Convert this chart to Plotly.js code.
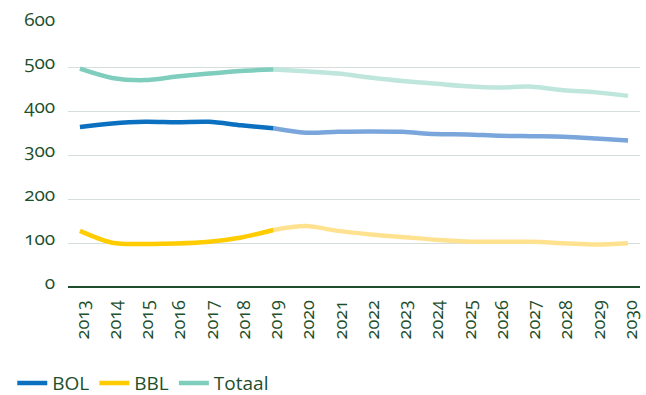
<!DOCTYPE html>
<html>
<head>
<meta charset="utf-8">
<script src="https://cdn.plot.ly/plotly-3.0.1.min.js"></script>
<style>
  html, body { margin: 0; padding: 0; background: #fff; }
  #chart { width: 646px; height: 395px; }
  svg text { font-variant-numeric: oldstyle-nums !important; font-feature-settings: "onum" 1 !important; }
</style>
</head>
<body>
<div id="chart"></div>
<script>
// Years (x categories)
const yearsAll  = ["2013","2014","2015","2016","2017","2018","2019","2020","2021","2022","2023","2024","2025","2026","2027","2028","2029","2030"];
const yearsHist = ["2013","2014","2015","2016","2017","2018","2019"];
const yearsProg = ["2019","2020","2021","2022","2023","2024","2025","2026","2027","2028","2029","2030"];

// Realised values 2013-2019
const bolHist    = [365, 373, 377, 376, 377, 369, 362];
const bblHist    = [128, 101, 98, 99, 103, 113, 130];
const totaalHist = [498, 477, 472, 480, 487, 493, 496];

// Forecast values 2019-2030
const bolProg    = [362, 352, 354, 355, 354, 349, 348, 345, 344, 343, 339, 334];
const bblProg    = [130, 139, 128, 120, 114, 108, 104, 103, 103, 100, 97, 100];
const totaalProg = [496, 492, 487, 478, 470, 464, 458, 455, 457, 449, 444, 436];

// Tick values / labels
const yTicks = [0, 100, 200, 300, 400, 500, 600];
const seriesNames = ["BOL", "BBL", "Totaal"];

const green = "#1d4f2c";
const font = "Open Sans";

const colHist = ["#0a70bf", "#ffcc00", "#7ecdbd"];
const colProg = ["#7aa6db", "#ffe290", "#bfe6dc"];
const hist = [bolHist, bblHist, totaalHist];
const prog = [bolProg, bblProg, totaalProg];

const traces = [];
for (let i = 0; i < 3; i++) {
  traces.push({
    x: yearsProg, y: prog[i], type: "scatter", mode: "lines",
    line: { color: colProg[i], width: 4.5, shape: "spline", smoothing: 0.9 },
    showlegend: false, hoverinfo: "skip"
  });
}
for (let i = 0; i < 3; i++) {
  traces.push({
    x: yearsHist, y: hist[i], type: "scatter", mode: "lines", name: seriesNames[i],
    line: { color: colHist[i], width: 4.5, shape: "spline", smoothing: 0.9 },
    showlegend: true
  });
}

const layout = {
  width: 646, height: 395,
  margin: { l: 68, r: 6, t: 24, b: 108 },
  paper_bgcolor: "#fff", plot_bgcolor: "#fff",
  font: { family: font, color: green, size: 19 },
  showlegend: true,
  legend: {
    orientation: "h", xref: "container", yref: "container",
    x: 0.019, y: 0.03, xanchor: "left", yanchor: "middle",
    font: { family: font, color: green, size: 19 },
    itemwidth: 30, traceorder: "normal"
  },
  xaxis: {
    type: "category",
    categoryorder: "array",
    categoryarray: yearsAll,
    range: [-0.37, 17.37],
    tickangle: -90,
    showgrid: false, zeroline: false,
    showline: false,
    ticks: "outside", ticklen: 5, tickcolor: "rgba(0,0,0,0)",
    ticklabelshift: 3,
    tickfont: { family: font, color: green, size: 18 }
  },
  yaxis: {
    range: [0, 600],
    tickvals: yTicks,
    ticktext: yTicks.map(String),
    showgrid: true, gridcolor: "#d6dedb", gridwidth: 1,
    zeroline: true, zerolinecolor: "#1d4f2c", zerolinewidth: 2,
    showline: false,
    ticks: "outside", ticklen: 8, tickcolor: "rgba(0,0,0,0)",
    tickfont: { family: font, color: green, size: 19 }
  }
};

function fixText() {
  document.querySelectorAll("#chart svg text").forEach(t => {
    t.style.setProperty("font-variant-numeric", "oldstyle-nums", "important");
    t.style.setProperty("font-feature-settings", '"onum" 1', "important");
  });
  // sit the y tick labels just on their gridline, like the reference
  document.querySelectorAll("#chart .ytick text").forEach(t => {
    if (!t.dataset.moved) {
      const y = parseFloat(t.getAttribute("y")) || 0;
      t.setAttribute("y", (y - 5).toFixed(2));
      t.dataset.moved = "1";
    }
  });
}

Plotly.newPlot("chart", traces, layout, { displayModeBar: false, staticPlot: true }).then(gd => {
  fixText();
  gd.on("plotly_afterplot", fixText);
});
</script>
</body>
</html>
